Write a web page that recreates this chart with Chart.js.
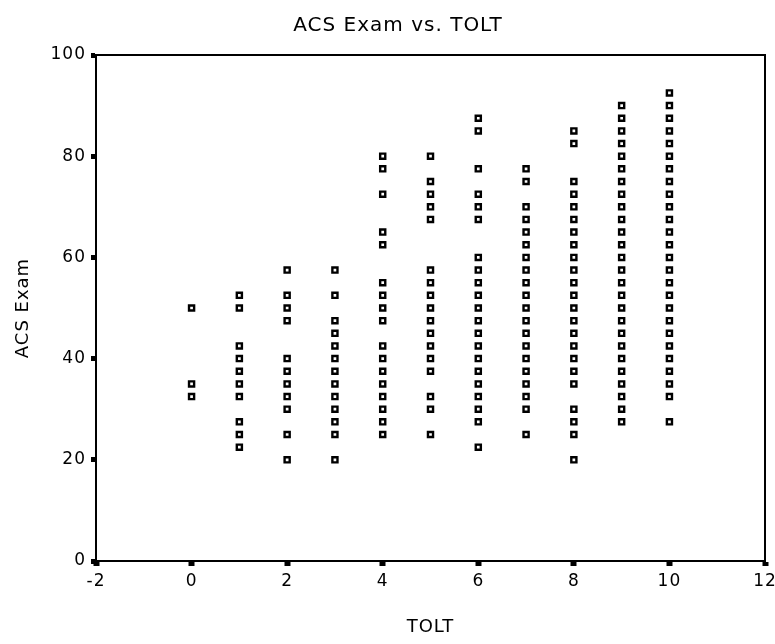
<!DOCTYPE html>
<html>
<head>
<meta charset="utf-8">
<title>ACS Exam vs. TOLT</title>
<script src="https://cdn.jsdelivr.net/npm/chart.js@4.4.1/dist/chart.umd.min.js"></script>
<style>
  html, body { margin: 0; padding: 0; background: #fff; }
  #wrap { width: 775px; height: 644px; }
</style>
</head>
<body>
<div id="wrap"><canvas id="chart" width="775" height="644"></canvas></div>
<script>
// ACS Exam scores, one list per TOLT score
var toltScores = [0, 1, 2, 3, 4, 5, 6, 7, 8, 9, 10];
var acs0 = [50, 35, 32.5];
var acs1 = [52.5, 50, 42.5, 40, 37.5, 35, 32.5, 27.5, 25, 22.5];
var acs2 = [57.5, 52.5, 50, 47.5, 40, 37.5, 35, 32.5, 30, 25, 20];
var acs3 = [57.5, 52.5, 47.5, 45, 42.5, 40, 37.5, 35, 32.5, 30, 27.5, 25, 20];
var acs4 = [80, 77.5, 72.5, 65, 62.5, 55, 52.5, 50, 47.5, 42.5, 40, 37.5, 35, 32.5, 30, 27.5, 25];
var acs5 = [80, 75, 72.5, 70, 67.5, 57.5, 55, 52.5, 50, 47.5, 45, 42.5, 40, 37.5, 32.5, 30, 25];
var acs6 = [87.5, 85, 77.5, 72.5, 70, 67.5, 60, 57.5, 55, 52.5, 50, 47.5, 45, 42.5, 40, 37.5, 35, 32.5, 30, 27.5, 22.5];
var acs7 = [77.5, 75, 70, 67.5, 65, 62.5, 60, 57.5, 55, 52.5, 50, 47.5, 45, 42.5, 40, 37.5, 35, 32.5, 30, 25];
var acs8 = [85, 82.5, 75, 72.5, 70, 67.5, 65, 62.5, 60, 57.5, 55, 52.5, 50, 47.5, 45, 42.5, 40, 37.5, 35, 30, 27.5, 25, 20];
var acs9 = [90, 87.5, 85, 82.5, 80, 77.5, 75, 72.5, 70, 67.5, 65, 62.5, 60, 57.5, 55, 52.5, 50, 47.5, 45, 42.5, 40, 37.5, 35, 32.5, 30, 27.5];
var acs10 = [92.5, 90, 87.5, 85, 82.5, 80, 77.5, 75, 72.5, 70, 67.5, 65, 62.5, 60, 57.5, 55, 52.5, 50, 47.5, 45, 42.5, 40, 37.5, 35, 32.5, 27.5];

var xTicks = [-2, 0, 2, 4, 6, 8, 10, 12];
var yTicks = [0, 20, 40, 60, 80, 100];

var chartTitle = 'ACS Exam vs. TOLT';
var xTitle = 'TOLT';
var yTitle = 'ACS Exam';

var scoreLists = [acs0, acs1, acs2, acs3, acs4, acs5, acs6, acs7, acs8, acs9, acs10];
var points = [];
toltScores.forEach(function (t, i) {
    scoreLists[i].forEach(function (v) {
        points.push({ x: t, y: v });
    });
});

var FONT = '"DejaVu Sans", Verdana, sans-serif';

// spaced-out lettering, outer frame and the centred title
var framePlugin = {
    id: 'framePlugin',
    beforeDraw: function (chart) {
        chart.ctx.letterSpacing = '1px';
    },
    afterDraw: function (chart) {
        var ctx = chart.ctx;
        var a = chart.chartArea;
        ctx.save();
        ctx.strokeStyle = '#000';
        ctx.lineWidth = 2;
        ctx.strokeRect(a.left, a.top, a.right - a.left, a.bottom - a.top);
        ctx.fillStyle = '#000';
        ctx.font = '20px ' + FONT;
        ctx.textAlign = 'center';
        ctx.textBaseline = 'middle';
        ctx.fillText(chartTitle, 398, 26);
        ctx.restore();
    }
};

new Chart(document.getElementById('chart').getContext('2d'), {
    type: 'scatter',
    data: {
        datasets: [{
            label: yTitle,
            data: points,
            pointStyle: 'rect',
            pointRadius: 3.6,
            pointHoverRadius: 3.6,
            borderWidth: 2.4,
            borderColor: '#000',
            backgroundColor: '#fff'
        }]
    },
    options: {
        responsive: false,
        animation: false,
        devicePixelRatio: 1,
        layout: { padding: { top: 55, right: 10, left: 0, bottom: 0 } },
        plugins: {
            legend: { display: false },
            tooltip: { enabled: false },
            title: { display: false }
        },
        scales: {
            x: {
                type: 'linear',
                min: xTicks[0],
                max: xTicks[xTicks.length - 1],
                afterBuildTicks: function (axis) {
                    axis.ticks = xTicks.map(function (v) { return { value: v }; });
                },
                afterFit: function (axis) {
                    axis.height = 83;
                    axis.paddingLeft = 0;
                    axis.paddingRight = 0;
                },
                border: { display: true, color: '#000', width: 2 },
                grid: {
                    drawOnChartArea: false,
                    color: '#000',
                    tickColor: '#000',
                    tickLength: 5,
                    tickWidth: 6
                },
                ticks: {
                    color: '#000',
                    padding: 5,
                    maxRotation: 0,
                    font: { family: FONT, size: 17 }
                },
                title: {
                    display: true,
                    text: xTitle,
                    color: '#000',
                    font: { family: FONT, size: 18 },
                    padding: { top: 0, bottom: 6 }
                }
            },
            y: {
                type: 'linear',
                min: yTicks[0],
                max: yTicks[yTicks.length - 1],
                afterBuildTicks: function (axis) {
                    axis.ticks = yTicks.map(function (v) { return { value: v }; });
                },
                afterFit: function (axis) {
                    axis.width = 96;
                    axis.paddingTop = 0;
                    axis.paddingBottom = 0;
                },
                border: { display: true, color: '#000', width: 2 },
                grid: {
                    drawOnChartArea: false,
                    color: '#000',
                    tickColor: '#000',
                    tickLength: 5,
                    tickWidth: 5
                },
                ticks: {
                    color: '#000',
                    padding: 5,
                    font: { family: FONT, size: 17 }
                },
                title: {
                    display: true,
                    text: yTitle,
                    color: '#000',
                    font: { family: FONT, size: 18 },
                    padding: { top: 13, bottom: 0 }
                }
            }
        }
    },
    plugins: [framePlugin]
});
</script>
</body>
</html>
